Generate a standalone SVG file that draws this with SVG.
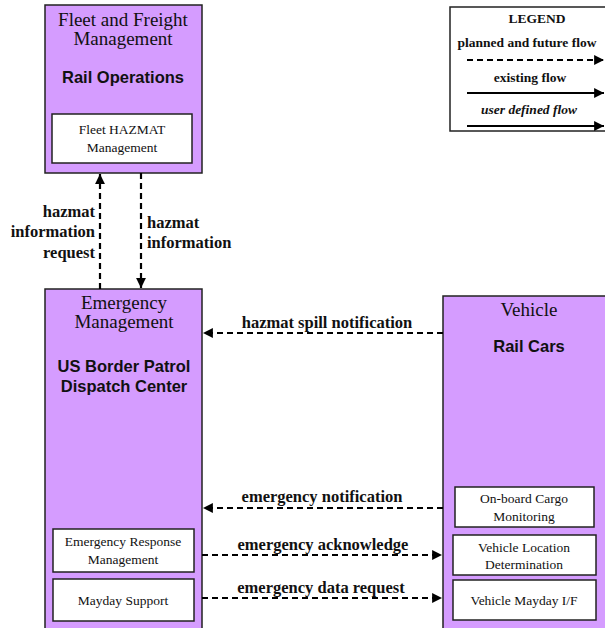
<svg xmlns="http://www.w3.org/2000/svg" width="605" height="628" viewBox="0 0 605 628">
<style>
.node{fill:#D59CFF;stroke:#222;stroke-width:1.5}
.inner{fill:#fff;stroke:#222;stroke-width:1.5}
.title{font-family:"Liberation Serif",serif;font-size:19px;fill:#111;text-anchor:middle}
.sub{font-family:"Liberation Sans",sans-serif;font-weight:bold;font-size:16.5px;fill:#111;text-anchor:middle}
.itxt{font-family:"Liberation Serif",serif;font-size:13.5px;fill:#111;text-anchor:middle}
.lbl{font-family:"Liberation Serif",serif;font-weight:bold;font-size:16.5px;fill:#111}
.leg{font-family:"Liberation Serif",serif;font-weight:bold;font-size:13.5px;fill:#111;text-anchor:middle}
.flow{fill:none;stroke:#000;stroke-width:2.2;stroke-dasharray:6,4}
.solid{fill:none;stroke:#000;stroke-width:2.2}
</style>
<defs>
<marker id="ah" viewBox="0 0 10 10" refX="10" refY="5" markerWidth="4.5" markerHeight="4.5" orient="auto" markerUnits="strokeWidth">
<path d="M0,0 L10,5 L0,10 z" fill="#000"/>
</marker>
</defs>
<rect width="605" height="628" fill="#fff"/>

<g id="legend">
<rect x="450" y="7" width="170" height="124" fill="#fff" stroke="#222" stroke-width="1.5"/>
<text class="leg" x="537" y="23">LEGEND</text>
<text class="leg" x="527" y="47">planned and future flow</text>
<line class="flow" x1="467" y1="60" x2="604" y2="60" marker-end="url(#ah)"/>
<text class="leg" x="530" y="82">existing flow</text>
<line class="solid" x1="467" y1="93" x2="604" y2="93" marker-end="url(#ah)"/>
<text class="leg" x="529" y="114" font-style="italic">user defined flow</text>
<line class="solid" x1="467" y1="126" x2="604" y2="126" marker-end="url(#ah)"/>
</g>

<g id="fleet">
<rect class="node" x="45" y="5" width="157" height="168"/>
<text class="title" x="123" y="26">Fleet and Freight</text>
<text class="title" x="123" y="45">Management</text>
<text class="sub" x="123" y="83">Rail Operations</text>
<rect class="inner" x="52" y="114" width="140" height="49"/>
<text class="itxt" x="122" y="134">Fleet HAZMAT</text>
<text class="itxt" x="122" y="152">Management</text>
</g>

<g id="emergency">
<rect class="node" x="45" y="289" width="157" height="345"/>
<text class="title" x="124" y="309">Emergency</text>
<text class="title" x="124" y="328">Management</text>
<text class="sub" x="124" y="372">US Border Patrol</text>
<text class="sub" x="124" y="392">Dispatch Center</text>
<rect class="inner" x="53" y="529" width="141" height="43"/>
<text class="itxt" x="123" y="546">Emergency Response</text>
<text class="itxt" x="123" y="564">Management</text>
<rect class="inner" x="53" y="579" width="141" height="42"/>
<text class="itxt" x="123" y="605">Mayday Support</text>
</g>

<g id="vehicle">
<rect class="node" x="443" y="296" width="180" height="340"/>
<text class="title" x="529" y="316">Vehicle</text>
<text class="sub" x="529" y="352">Rail Cars</text>
<rect class="inner" x="455" y="487" width="139" height="40"/>
<text class="itxt" x="524" y="503">On-board Cargo</text>
<text class="itxt" x="524" y="521">Monitoring</text>
<rect class="inner" x="453" y="535" width="143" height="40"/>
<text class="itxt" x="524" y="552">Vehicle Location</text>
<text class="itxt" x="524" y="569">Determination</text>
<rect class="inner" x="453" y="580" width="143" height="40"/>
<text class="itxt" x="524" y="605">Vehicle Mayday I/F</text>
</g>

<g id="connectors">
<line class="flow" x1="100" y1="289" x2="100" y2="174" marker-end="url(#ah)"/>
<text class="lbl" x="95" y="217" text-anchor="end">hazmat</text>
<text class="lbl" x="95" y="237" text-anchor="end">information</text>
<text class="lbl" x="95" y="258" text-anchor="end">request</text>
<line class="flow" x1="141" y1="173" x2="141" y2="288" marker-end="url(#ah)"/>
<text class="lbl" x="147" y="228">hazmat</text>
<text class="lbl" x="147" y="248">information</text>

<line class="flow" x1="443" y1="333" x2="203" y2="333" marker-end="url(#ah)"/>
<text class="lbl" x="327" y="328" text-anchor="middle">hazmat spill notification</text>
<line class="flow" x1="443" y1="508" x2="203" y2="508" marker-end="url(#ah)"/>
<text class="lbl" x="322" y="502" text-anchor="middle">emergency notification</text>
<line class="flow" x1="202" y1="555" x2="442" y2="555" marker-end="url(#ah)"/>
<text class="lbl" x="323" y="550" text-anchor="middle">emergency acknowledge</text>
<line class="flow" x1="202" y1="598" x2="442" y2="598" marker-end="url(#ah)"/>
<text class="lbl" x="321" y="593" text-anchor="middle">emergency data request</text>
</g>
</svg>
